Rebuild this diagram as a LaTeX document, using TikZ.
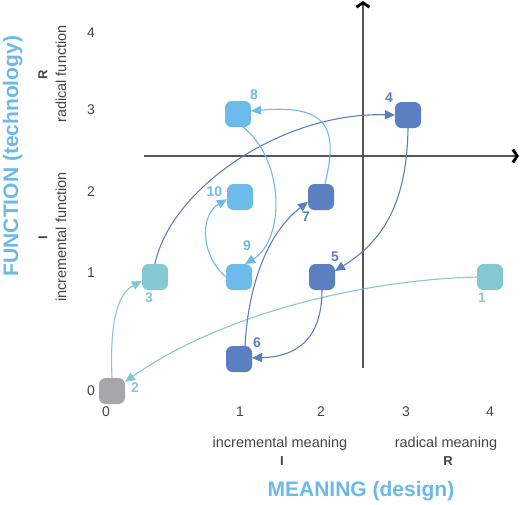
\documentclass[tikz,border=0pt]{standalone}
\usepackage{fontspec}
\setmainfont{Liberation Sans}
\usetikzlibrary{arrows.meta,calc}
\definecolor{lb}{HTML}{6CBBEB}
\definecolor{tl}{HTML}{86C7D5}
\definecolor{db}{HTML}{5A80C1}
\definecolor{gb}{HTML}{A7A7AA}
\definecolor{txt}{HTML}{444444}
\definecolor{axc}{HTML}{555555}
\definecolor{ttl}{HTML}{6CB9E9}
\begin{document}
\begin{tikzpicture}[x=1pt,y=-1pt,
  box/.style={rounded corners=6.5pt,minimum size=26pt,inner sep=0pt,outer sep=0pt},
  conn/.style={line width=1.1pt,-{Triangle[length=10pt,width=9pt]}},
  axisline/.style={draw=axc,line width=1.8pt,-{Straight Barb[length=4.5pt,width=13pt,line width=2.8pt,color=black]}},
  tick/.style={text=txt,font=\fontsize{14}{16}\selectfont,inner sep=0pt},
  sublab/.style={text=txt,font=\fontsize{14.5}{17}\selectfont,inner sep=0pt},
  letter/.style={text=txt,font=\fontsize{13}{15}\selectfont\bfseries,inner sep=0pt},
  title/.style={text=ttl,font=\fontsize{21}{24}\selectfont\bfseries,inner sep=0pt},
  num/.style={font=\fontsize{14}{16}\selectfont\bfseries,inner sep=0pt}]
\useasboundingbox (0,0) rectangle (520,504);

% axes
\coordinate (hx0) at (144,156);
\coordinate (hx1) at (519,156);
\coordinate (vy0) at (363,368);
\coordinate (vy1) at (363,1);
\draw[axisline] (hx0) -- (hx1);
\draw[axisline] (vy0) -- (vy1);

% boxes
\node[box,fill=gb] (n0) at (112,391) {};
\node[box,fill=tl] (n1) at (490,277) {};
\node[box,fill=tl] (n3) at (155,277) {};
\node[box,fill=db] (n4) at (408,115) {};
\node[box,fill=db] (n5) at (322,277) {};
\node[box,fill=db] (n6) at (239,359) {};
\node[box,fill=db] (n7) at (321,197) {};
\node[box,fill=lb] (n8) at (238,114) {};
\node[box,fill=lb] (n9) at (239,277) {};
\node[box,fill=lb] (n10) at (240,197) {};

% connectors
\draw[conn,tl] (n1.west) .. controls (360,280) and (220,315) .. (n0.35);
\draw[conn,tl] (n0.north) .. controls (110,330) and (115,295) .. (n3.197);
\draw[conn,db] (n3.north) .. controls (170,190) and (280,112) .. (n4.west);
\draw[conn,db] (n4.south) .. controls (407,200) and (385,240) .. (n5.25);
\draw[conn,db] (n5.south) .. controls (322,345) and (290,357) .. (n6.5);
\draw[conn,db] ($(n6.north)+(6,0)$) .. controls (248,290) and (265,235) .. (n7.200);
\draw[conn,lb] ($(n7.north)+(4,0)$) .. controls (338,130) and (330,104) .. (n8.13);
\draw[conn,lb] ($(n8.south)+(5,0)$) .. controls (285,160) and (285,240) .. (n9.65);
\draw[conn,lb] (n9.west) .. controls (200,255) and (200,215) .. (n10.190);

% step labels
\node[num,text=tl] (l1) at (482,298) {1};
\node[num,text=tl] (l2) at (135,388) {2};
\node[num,text=tl] (l3) at (149,298) {3};
\node[num,text=db] (l4) at (389,98) {4};
\node[num,text=db] (l5) at (335,257) {5};
\node[num,text=db] (l6) at (257,343) {6};
\node[num,text=db] (l7) at (306,217) {7};
\node[num,text=lb] (l8) at (254,95) {8};
\node[num,text=lb] (l9) at (247,246) {9};
\node[num,text=lb] (l10) at (214.5,191.5) {10};

% ticks
\node[tick] (tx0) at (106,412) {0};
\node[tick] (tx1) at (240,412) {1};
\node[tick] (tx2) at (321,412) {2};
\node[tick] (tx3) at (406,412) {3};
\node[tick] (tx4) at (490,412) {4};
\node[tick] (ty0) at (91,391) {0};
\node[tick] (ty1) at (91,273) {1};
\node[tick] (ty2) at (91,192) {2};
\node[tick] (ty3) at (91,110) {3};
\node[tick] (ty4) at (91,33) {4};

% axis descriptions
\node[sublab,anchor=base] (im) at (280,447) {incremental meaning};
\node[sublab,anchor=base] (rm) at (446,447) {radical meaning};
\node[letter] (iI) at (282,461) {I};
\node[letter] (iR) at (448,461) {R};
\node[title,anchor=base] (tm) at (361,496) {MEANING (design)};

\node[sublab,rotate=90] (rf) at (61,74) {radical function};
\node[sublab,rotate=90] (inf) at (61,237) {incremental function};
\node[letter,rotate=90] (fR) at (43,75) {R};
\node[letter,rotate=90] (fI) at (43,238) {I};
\node[title,rotate=90,anchor=base] (tf) at (18,156) {FUNCTION (technology)};
\end{tikzpicture}
\end{document}
